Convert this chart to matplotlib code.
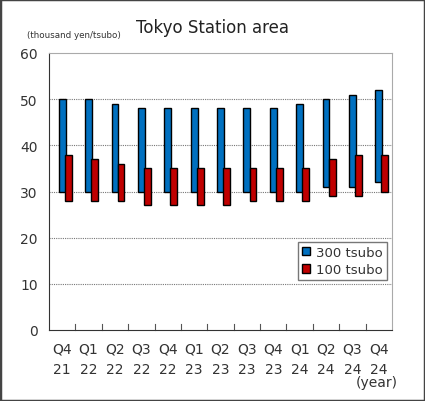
import matplotlib
matplotlib.use("Agg")
import matplotlib.pyplot as plt
from matplotlib.patches import Rectangle
import numpy as np

quarters = ["Q4", "Q1", "Q2", "Q3", "Q4", "Q1", "Q2", "Q3", "Q4", "Q1", "Q2", "Q3", "Q4"]
years = ["21", "22", "22", "22", "22", "23", "23", "23", "23", "24", "24", "24", "24"]

# 300 tsubo range (low, high)
low_300 = [30, 30, 30, 30, 30, 30, 30, 30, 30, 30, 31, 31, 32]
high_300 = [50, 50, 49, 48, 48, 48, 48, 48, 48, 49, 50, 51, 52]
# 100 tsubo range (low, high)
low_100 = [28, 28, 28, 27, 27, 27, 27, 28, 28, 28, 29, 29, 30]
high_100 = [38, 37, 36, 35, 35, 35, 35, 35, 35, 35, 37, 38, 38]

labels = [f"{q}\n{y}" for q, y in zip(quarters, years)]
x = np.arange(len(labels))

fig = plt.figure(figsize=(4.25, 4.02), dpi=100)
ax = fig.add_axes([49 / 425, 1 - 331 / 402, 343 / 425, 277 / 402])

w = 0.26
ax.bar(x, np.array(high_300) - np.array(low_300), bottom=low_300, width=w,
       color="#0070C0", edgecolor="black", linewidth=1, label="300 tsubo", zorder=3)
ax.bar(x + 0.23, np.array(high_100) - np.array(low_100), bottom=low_100, width=w,
       color="#C00000", edgecolor="black", linewidth=1, label="100 tsubo", zorder=4)

ax.set_ylim(0, 60)
ax.set_xlim(-0.5, len(labels) - 0.5)
ax.set_yticks(range(0, 61, 10))
ax.tick_params(axis="y", length=0, labelsize=10, pad=8, colors="#333333")
ax.set_xticks(x)
ax.set_xticklabels(labels, fontsize=10, color="#333333", linespacing=1.6)
ax.tick_params(axis="x", length=0, pad=8)
for b in np.arange(0.5, len(labels) - 0.5, 1):
    ax.plot([b, b], [0, 1.2], color="#555555", lw=0.8, zorder=2, clip_on=False)

for yv in range(10, 60, 10):
    ax.axhline(yv, color="#777777", lw=0.8, ls=(0, (1, 1)), zorder=1)

ax.spines["left"].set_color("#333333")
ax.spines["bottom"].set_color("#333333")
ax.spines["top"].set_color("#aaaaaa")
ax.spines["right"].set_color("#aaaaaa")

leg = ax.legend(loc="lower right", bbox_to_anchor=(0.985, 0.18), borderaxespad=0,
                fontsize=9.5, frameon=True, fancybox=False, handlelength=0.6,
                handleheight=0.6, handletextpad=0.5, borderpad=0.3, labelspacing=0.35)
leg.get_frame().set_edgecolor("#555555")
leg.get_frame().set_linewidth(1)
for t in leg.get_texts():
    t.set_color("#333333")

fig.text(212 / 425, 1 - 28 / 402, "Tokyo Station area", ha="center", va="center",
         fontsize=12, color="#222222")
fig.text(27 / 425, 1 - 35 / 402, "(thousand yen/tsubo)", ha="left", va="center",
         fontsize=6.3, color="#333333")
fig.text(398 / 425, 1 - 383 / 402, "(year)", ha="right", va="center",
         fontsize=10, color="#333333")

fig.patches.append(Rectangle((0, 0), 1, 1, transform=fig.transFigure, fill=False,
                             edgecolor="#444444", linewidth=2.5))

fig.savefig("out.png", dpi=100)
